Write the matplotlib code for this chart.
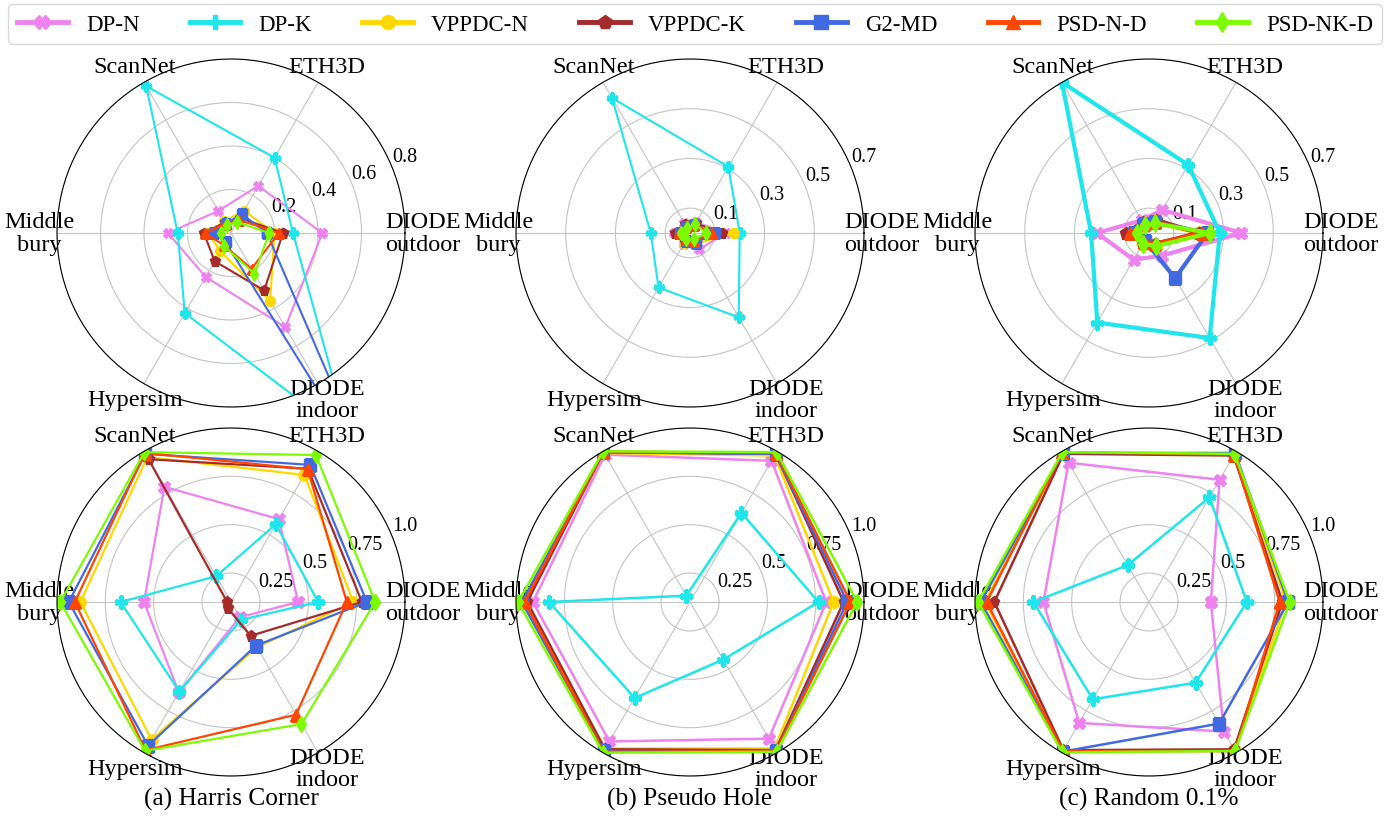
import matplotlib
matplotlib.use("Agg")
import matplotlib.pyplot as plt
import numpy as np
from matplotlib.lines import Line2D

plt.rcParams['font.family'] = ['Liberation Serif', 'DejaVu Serif']

datasets = ["DIODE\noutdoor", "ETH3D", "ScanNet", "Middle\nbury", "Hypersim", "DIODE\nindoor"]
methods = ["DP-N", "DP-K", "VPPDC-N", "VPPDC-K", "G2-MD", "PSD-N-D", "PSD-NK-D"]
colors = ["violet", "#1EE6EA", "gold", "brown", "royalblue", "orangered", "lawngreen"]
markers = ["X", "P", "o", "p", "s", "^", "d"]

# rows follow `methods`, columns follow `datasets`
harris_top = [
    [0.42, 0.25, 0.117, 0.29, 0.233, 0.50],
    [0.285, 0.40, 0.78, 0.245, 0.425, 1.09],
    [0.20, 0.119, 0.063, 0.105, 0.098, 0.36],
    [0.239, 0.08, 0.056, 0.125, 0.15, 0.305],
    [0.165, 0.10, 0.05, 0.08, 0.05, 1.30],
    [0.219, 0.07, 0.05, 0.12, 0.065, 0.19],
    [0.175, 0.058, 0.04, 0.048, 0.068, 0.216],
]
pseudo_top = [
    [0.145, 0.05, 0.045, 0.065, 0.05, 0.075],
    [0.20, 0.308, 0.627, 0.158, 0.253, 0.392],
    [0.175, 0.04, 0.035, 0.05, 0.045, 0.05],
    [0.13, 0.045, 0.04, 0.06, 0.04, 0.04],
    [0.10, 0.035, 0.03, 0.04, 0.035, 0.045],
    [0.09, 0.035, 0.03, 0.045, 0.03, 0.035],
    [0.065, 0.04, 0.025, 0.035, 0.03, 0.03],
]
random_top = [
    [0.372, 0.107, 0.059, 0.209, 0.124, 0.105],
    [0.285, 0.316, 0.70, 0.233, 0.416, 0.488],
    [0.20, 0.05, 0.04, 0.07, 0.05, 0.06],
    [0.20, 0.06, 0.05, 0.094, 0.045, 0.05],
    [0.235, 0.05, 0.04, 0.06, 0.035, 0.21],
    [0.215, 0.05, 0.04, 0.075, 0.04, 0.05],
    [0.245, 0.045, 0.035, 0.05, 0.05, 0.06],
]
harris_bottom = [
    [0.447, 0.595, 0.788, 0.55, 0.64, 0.191],
    [0.551, 0.564, 0.254, 0.671, 0.635, 0.206],
    [0.733, 0.859, 0.965, 0.879, 0.922, 0.37],
    [0.777, 0.896, 0.953, 0.12, 0.135, 0.302],
    [0.803, 0.919, 0.985, 0.939, 0.958, 0.36],
    [0.699, 0.893, 0.99, 0.908, 0.985, 0.773],
    [0.846, 0.978, 0.995, 0.983, 0.989, 0.829],
]
pseudo_bottom = [
    [0.805, 0.943, 0.98, 0.913, 0.933, 0.916],
    [0.765, 0.632, 0.138, 0.829, 0.673, 0.444],
    [0.843, 0.975, 0.99, 0.965, 0.975, 0.975],
    [0.895, 0.985, 0.995, 0.942, 0.98, 0.985],
    [0.913, 0.985, 0.995, 0.97, 0.99, 0.99],
    [0.93, 0.99, 0.998, 0.955, 0.995, 0.99],
    [0.965, 0.995, 1.0, 0.989, 1.0, 0.995],
]
random_bottom = [
    [0.42, 0.83, 0.932, 0.646, 0.822, 0.874],
    [0.606, 0.725, 0.32, 0.698, 0.681, 0.582],
    [0.81, 0.98, 0.99, 0.95, 0.99, 0.985],
    [0.79, 0.975, 0.985, 0.90, 0.985, 0.98],
    [0.82, 0.99, 0.99, 0.97, 0.994, 0.826],
    [0.776, 0.98, 0.995, 0.94, 0.99, 0.99],
    [0.828, 0.985, 0.995, 0.984, 0.998, 0.99],
]

top_ticks_a = [0.2, 0.4, 0.6, 0.8]
top_ticks_bc = [0.1, 0.3, 0.5, 0.7]
bottom_ticks = [0.25, 0.5, 0.75, 1.0]
bottom_tick_labels = ["0.25", "0.5", "0.75", "1.0"]
subtitles = ["(a) Harris Corner", "(b) Pseudo Hole", "(c) Random 0.1%"]

W, H = 1391, 820
fig = plt.figure(figsize=(W / 100, H / 100), dpi=100)

R = 174
col_cx = [231, 690, 1149]
row_cy = [234, 603]

angles = np.deg2rad(np.arange(0, 360, 60))
closed = np.append(angles, angles[0])

panels = [
    (0, 0, harris_top, (0.0, 0.8), top_ticks_a, [str(t) for t in top_ticks_a], 1.5, 7),
    (0, 1, pseudo_top, (0.0, 0.7), top_ticks_bc, [str(t) for t in top_ticks_bc], 1.5, 7),
    (0, 2, random_top, (0.0, 0.7), top_ticks_bc, [str(t) for t in top_ticks_bc], 3.0, 9),
    (1, 0, harris_bottom, (0.1, 1.0), bottom_ticks, bottom_tick_labels, 1.6, 8),
    (1, 1, pseudo_bottom, (0.1, 1.0), bottom_ticks, bottom_tick_labels, 1.8, 8),
    (1, 2, random_bottom, (0.1, 1.0), bottom_ticks, bottom_tick_labels, 1.8, 8),
]

for row, col, table, lim, ticks, tlabels, lw, ms in panels:
    cx, cy = col_cx[col], row_cy[row]
    ax = fig.add_axes([(cx - R) / W, (H - cy - R) / H, 2 * R / W, 2 * R / H],
                      projection='polar')
    for vals, c, m in zip(table, colors, markers):
        v = np.append(vals, vals[0])
        ax.plot(closed, v, color=c, marker=m, lw=lw, ms=ms)
    ax.set_xticks(angles)
    ax.set_xticklabels(datasets, fontsize=17.5, linespacing=1.1)
    ax.tick_params(axis='x', pad=2.5)
    ax.set_ylim(*lim)
    ax.set_yticks(ticks)
    ax.set_yticklabels(tlabels, fontsize=14.5)
    ax.grid(color='#c4c4c4', lw=0.8)
    ax.spines['polar'].set_color('black')
    ax.spines['polar'].set_linewidth(0.8)
    if row == 1:
        fig.text(cx / W, 1 - 799 / H, subtitles[col], ha='center', va='center',
                 fontsize=18.3)

handles = [Line2D([0], [0], color=c, marker=m, lw=3.5, ms=10)
           for c, m in zip(colors, markers)]
fig.legend(handles, methods, loc='center',
           bbox_to_anchor=(8 / W, 1 - 46 / H, 1374 / W, 42 / H),
           mode='expand', ncol=7, fontsize=16.5, frameon=True, fancybox=True,
           edgecolor='#d0d0d0', handlelength=2.2, borderaxespad=0)

fig.savefig("out.png", dpi=100)
